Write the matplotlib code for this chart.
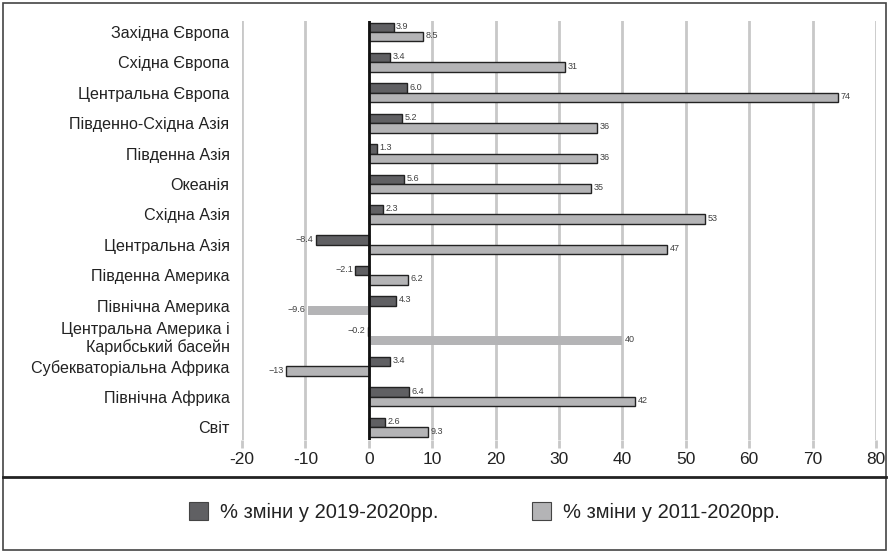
import matplotlib
matplotlib.use("Agg")
import matplotlib.pyplot as plt
from matplotlib.patches import Patch, Rectangle
from matplotlib.lines import Line2D
import numpy as np

categories = [
    "Західна Європа", "Східна Європа", "Центральна Європа", "Південно-Східна Азія",
    "Південна Азія", "Океанія", "Східна Азія", "Центральна Азія",
    "Південна Америка", "Північна Америка", "Центральна Америка і\nКарибський басейн",
    "Субекваторіальна Африка", "Північна Африка", "Світ",
]
change_2019_2020 = [3.9, 3.4, 6.0, 5.2, 1.3, 5.6, 2.3, -8.4, -2.1, 4.3, -0.2, 3.4, 6.4, 2.6]
change_2011_2020 = [8.5, 31, 74, 36, 36, 35, 53, 47, 6.2, -9.6, 40, -13, 42, 9.3]
legend_labels = ["% зміни у 2019-2020рр.", "% зміни у 2011-2020рр."]
xticks = [-20, -10, 0, 10, 20, 30, 40, 50, 60, 70, 80]

dark = "#606063"
light = "#b4b4b6"
edge = "#222222"
grid_c = "#c8c8c8"
fam = ["Liberation Sans", "DejaVu Sans"]

W, H = 889, 552
fig = plt.figure(figsize=(W / 100, H / 100), dpi=100)
ax = fig.add_axes([242 / W, 1 - 440 / H, (876 - 242) / W, (440 - 21) / H])

y = np.arange(len(categories))
h = 0.31
no_edge_light = {9, 10}

def fmt(v):
    s = f"{abs(v):.0f}" if abs(v) >= 10 else f"{abs(v):.1f}"
    return ("\u2212" if v < 0 else "") + s

for i, (a, b) in enumerate(zip(change_2019_2020, change_2011_2020)):
    ax.barh(y[i] - h / 2, a, height=h, color=dark, edgecolor=edge, linewidth=1.0, zorder=3)
    if i in no_edge_light:
        ax.barh(y[i] + h / 2, b, height=h, color=light, edgecolor="none", zorder=3)
    else:
        ax.barh(y[i] + h / 2, b, height=h, color=light, edgecolor=edge, linewidth=1.0, zorder=3)
    for val, yy in ((a, y[i] - h / 2), (b, y[i] + h / 2)):
        if val >= 0:
            ax.text(val + 0.4, yy - 0.03, fmt(val), ha="left", va="center", fontsize=6.5,
                    color="#404040", family=fam, zorder=4)
        else:
            ax.text(val - 0.4, yy - 0.03, fmt(val), ha="right", va="center", fontsize=6.5,
                    color="#404040", family=fam, zorder=4)

ax.set_xlim(-20, 80)
ax.set_ylim(len(categories) - 1 + 0.42, -0.36)
ax.set_xticks(xticks)
ax.set_xticklabels([str(t) for t in xticks], fontsize=12.5, family=fam, color="#222222")
ax.set_yticks(y)
ax.set_yticklabels(categories, fontsize=11.6, family=fam, color="#222222")
ax.tick_params(axis="y", length=0, pad=9)
ax.tick_params(axis="x", length=6, width=2, color=grid_c, pad=3)
for s in ax.spines.values():
    s.set_visible(False)
for t in xticks:
    ax.axvline(t, color=grid_c, lw=2, zorder=1)
ax.axvline(0, color="#111111", lw=2, zorder=5)

# outer frame and separator
fig.add_artist(Rectangle((3 / W, 2 / H), (W - 6) / W, (H - 5) / H, transform=fig.transFigure,
                         fill=False, edgecolor="#444444", lw=1.2))
fig.add_artist(Line2D([3 / W, (W - 3) / W], [1 - 477 / H, 1 - 477 / H], transform=fig.transFigure,
                      color="#222222", lw=2))

handles = [Patch(facecolor=dark, edgecolor="#444444", lw=0.8),
           Patch(facecolor=light, edgecolor="#444444", lw=0.8)]
fig.legend(handles, legend_labels, loc="center", bbox_to_anchor=(484.5 / W, 1 - 512 / H), ncol=2,
           frameon=False, prop={"family": fam, "size": 14.5}, handlelength=0.95, handleheight=0.95,
           handletextpad=0.6, columnspacing=4.6, labelcolor="#222222")

fig.savefig("out.png", dpi=100)
